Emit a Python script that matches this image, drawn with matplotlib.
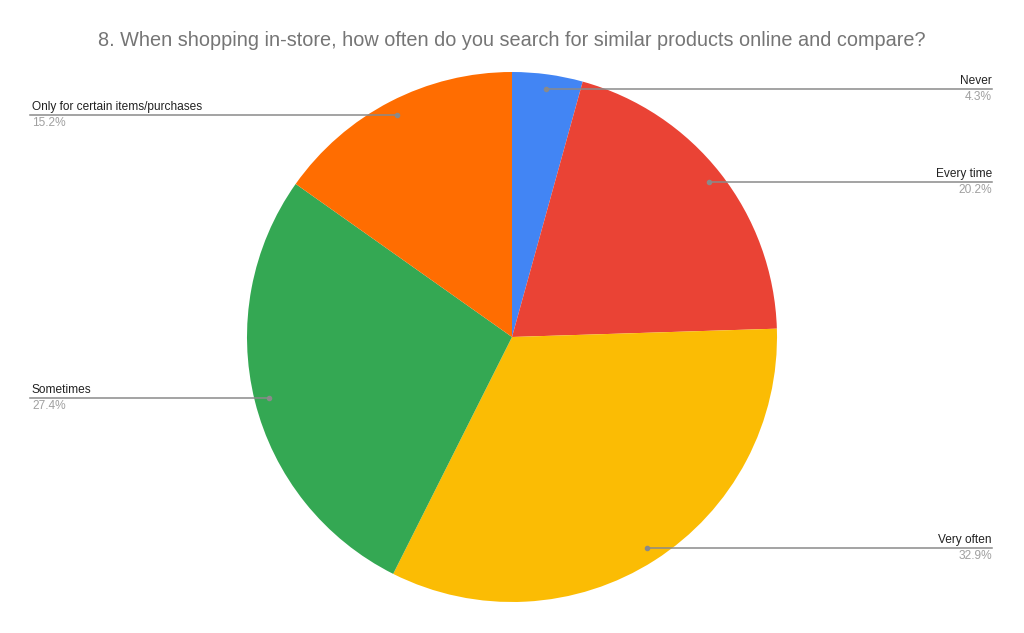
import numpy as np
import matplotlib
matplotlib.use("Agg")
import matplotlib.pyplot as plt

title = "8. When shopping in-store, how often do you search for similar products online and compare?"
categories = ["Never", "Every time", "Very often", "Sometimes", "Only for certain items/purchases"]
values = [4.3, 20.2, 32.9, 27.4, 15.2]
colors = ["#4285F4", "#EA4335", "#FBBC04", "#34A853", "#FF6D01"]

W, H = 1024, 633
fig = plt.figure(figsize=(W / 100, H / 100), dpi=100)
ax = fig.add_axes([0, 0, 1, 1])
ax.set_xlim(0, W)
ax.set_ylim(0, H)
ax.set_aspect("equal")
ax.axis("off")

cx, cy, R = 512, H - 337, 265
wedges, _ = ax.pie(values, colors=colors, startangle=90, counterclock=False,
                   center=(cx, cy), radius=R, wedgeprops=dict(linewidth=0),
                   frame=True)
ax.set_xlim(0, W)
ax.set_ylim(0, H)
ax.axis("off")

font = "Liberation Sans"
for w, cat, v in zip(wedges, categories, values):
    ang = np.deg2rad((w.theta1 + w.theta2) / 2)
    px = cx + 0.945 * R * np.cos(ang)
    py = cy + 0.945 * R * np.sin(ang)
    if np.cos(ang) >= 0:
        ex, ha, tx = 992, "right", 992
    else:
        ex, ha, tx = 30, "left", 32
    ax.plot([px, ex], [py, py], color="#8a8a8a", lw=1.1, zorder=5)
    ax.plot([px], [py], "o", color="#8a8a8a", ms=3, zorder=6)
    ax.text(tx, py + 2, cat, ha=ha, va="bottom", fontsize=8.6, color="#222222", family=font)
    ax.text(tx, py - 2, f"{v:.1f}%", ha=ha, va="top", fontsize=8.6, color="#a0a0a0", family=font)

fig.text(0.5, 1 - 40 / H, title, ha="center", va="center", fontsize=14.3,
         color="#757575", family=font)

fig.savefig("out.png", dpi=100)
